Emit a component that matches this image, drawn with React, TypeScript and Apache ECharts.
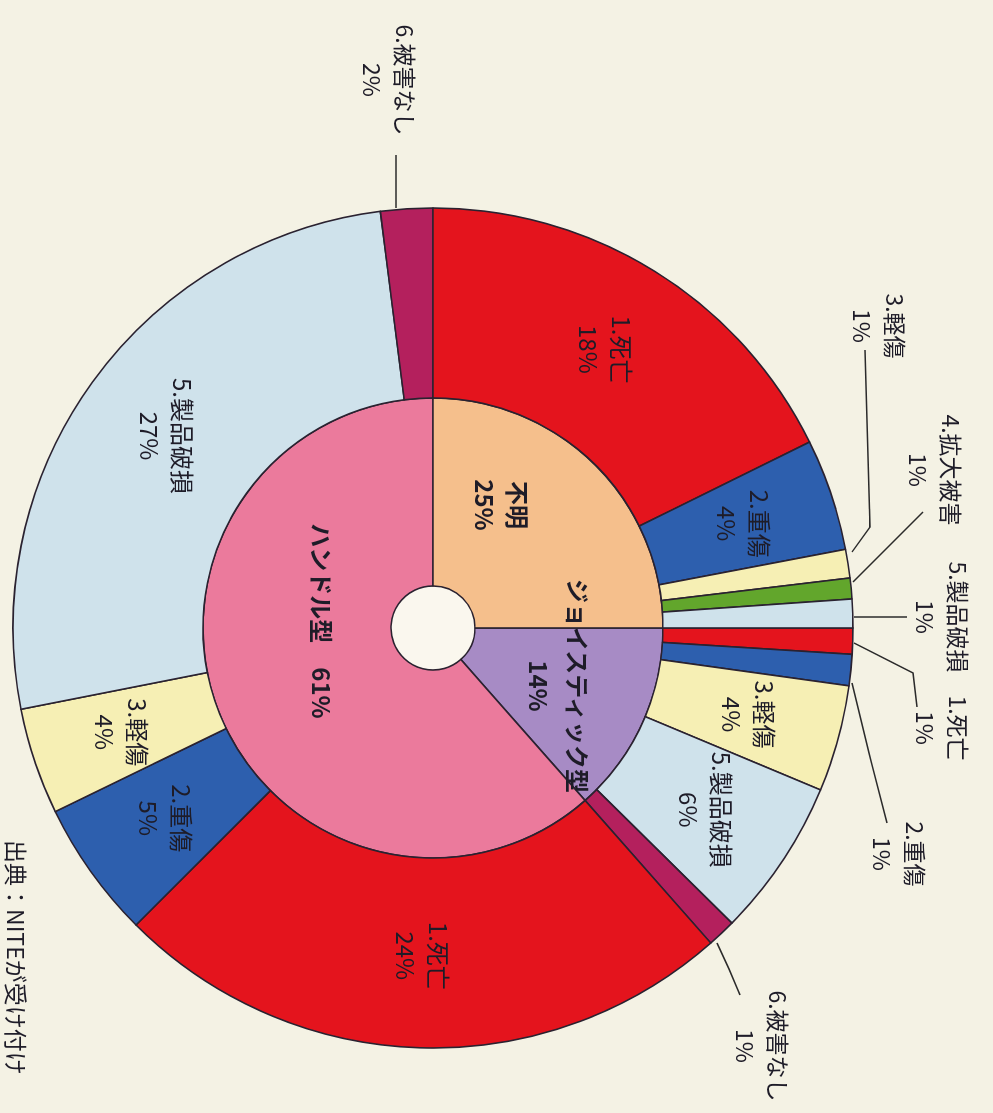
import React, { useEffect, useRef } from 'react';
import * as echarts from 'echarts';

// ---- data ----
const innerNames = ['ジョイスティック型', 'ハンドル型', '不明'];
const innerShares = [13.5, 61.5, 25.0];
const innerPercentLabels = [14, 61, 25];

const joystickNames = ['1.死亡', '2.重傷', '3.軽傷', '5.製品破損', '6.被害なし'];
const joystickShares = [1.0, 1.2, 4.1, 6.1, 1.1];
const joystickPercentLabels = [1, 1, 4, 6, 1];

const handleNames = ['1.死亡', '2.重傷', '3.軽傷', '5.製品破損', '6.被害なし'];
const handleShares = [24.0, 5.3, 4.1, 26.1, 2.0];
const handlePercentLabels = [24, 5, 4, 27, 2];

const unknownNames = ['1.死亡', '2.重傷', '3.軽傷', '4.拡大被害', '5.製品破損'];
const unknownShares = [17.7, 4.3, 1.1, 0.8, 1.1];
const unknownPercentLabels = [18, 4, 1, 1, 1];

const sourceNote = '出典：NITEが受け付け';

// ---- layout / style ----
const W = 1113;
const H = 993;
const CX = 628;
const CY = 560;
const FONT = '"Noto Sans CJK JP", "Noto Sans", sans-serif';
const TEXT = '#1e1c28';
const EDGE = '#2a2230';
const BG = '#f4f2e4';

const damageColors: Record<string, string> = {
  '1': '#e4141d',
  '2': '#2d5fae',
  '3': '#f6efb4',
  '4': '#62a62c',
  '5': '#cfe2eb',
  '6': '#b4205d',
};
const innerColors = ['#a78bc5', '#eb7a9c', '#f5bf8c'];

const innerLabelPos = [
  { x: 686, y: 434, lh: 39, sep: '\n' },
  { x: 621, y: 670, lh: 33, sep: '　' },
  { x: 505, y: 491, lh: 33, sep: '\n' },
];

// outside labels of the outer ring (index in outer data)
const outsideLabels: Record<number, { x: number; y: number; line: number[][] }> = {
  0: { x: 728, y: 50, line: [[643, 139], [673, 80], [707, 76]] },
  1: { x: 854, y: 93, line: [[683, 141], [753, 124], [823, 106]] },
  4: { x: 1046, y: 230, line: [[943, 276], [969, 264], [995, 253]] },
  9: { x: 80, y: 603, line: [[208, 597], [181, 597], [155, 597]] },
  12: { x: 326, y: 113, line: [[552, 141], [527, 123], [350, 128]] },
  13: { x: 470, y: 57, line: [[582, 140], [547, 105], [512, 70]] },
  14: { x: 617, y: 50, line: [[617, 139], [617, 112], [617, 86]] },
};

function buildOuter() {
  const groups = [
    [joystickNames, joystickShares, joystickPercentLabels],
    [handleNames, handleShares, handlePercentLabels],
    [unknownNames, unknownShares, unknownPercentLabels],
  ] as [string[], number[], number[]][];
  const out: any[] = [];
  groups.forEach(([names, shares, pcts]) => {
    names.forEach((n, i) => {
      const idx = out.length;
      const outside = !!outsideLabels[idx];
      out.push({
        name: n,
        value: shares[i],
        pct: pcts[i],
        itemStyle: { color: damageColors[n.charAt(0)] },
        label: {
          position: outside ? 'outside' : 'inside',
          fontSize: outside ? 23 : 24,
        },
        labelLine: { show: outside },
      });
    });
  });
  return out;
}

const outerData = buildOuter();
const innerData = innerNames.map((n, i) => ({
  name: n,
  value: innerShares[i],
  pct: innerPercentLabels[i],
  itemStyle: { color: innerColors[i] },
  label: { lineHeight: innerLabelPos[i].lh },
}));

const option: any = {
  animation: false,
  backgroundColor: BG,
  textStyle: { fontFamily: FONT },
  graphic: [
    {
      type: 'circle',
      z: 0,
      shape: { cx: CX, cy: CY, r: 42 },
      style: { fill: '#faf7ee' },
      silent: true,
    },
    {
      type: 'text',
      left: 840,
      top: 964,
      style: {
        text: sourceNote,
        fill: TEXT,
        font: `23px ${FONT}`,
      },
    },
  ],
  series: [
    {
      type: 'pie',
      name: 'inner',
      center: [CX, CY],
      radius: [42, 230],
      startAngle: 90,
      clockwise: true,
      avoidLabelOverlap: false,
      silent: true,
      itemStyle: { borderColor: EDGE, borderWidth: 1.6 },
      label: {
        show: true,
        position: 'inside',
        color: TEXT,
        fontFamily: FONT,
        fontSize: 24,
        fontWeight: 'bold',
        formatter: (p: any) => `${p.name}${innerLabelPos[p.dataIndex].sep}${p.data.pct}%`,
      },
      labelLine: { show: false },
      labelLayout: (p: any) => {
        const o = innerLabelPos[p.dataIndex];
        return { x: o.x, y: o.y, align: 'center', verticalAlign: 'middle' };
      },
      data: innerData,
    },
    {
      type: 'pie',
      name: 'outer',
      center: [CX, CY],
      radius: [230, 420],
      startAngle: 90,
      clockwise: true,
      avoidLabelOverlap: false,
      silent: true,
      itemStyle: { borderColor: EDGE, borderWidth: 1.6 },
      label: {
        show: true,
        color: TEXT,
        fontFamily: FONT,
        fontSize: 24,
        lineHeight: 33,
        align: 'center',
        formatter: (p: any) => `${p.name}\n${p.data.pct}%`,
      },
      labelLine: {
        show: false,
        lineStyle: { color: '#2b2b2b', width: 1.5 },
      },
      labelLayout: (p: any) => {
        const o = outsideLabels[p.dataIndex];
        if (!o) return {};
        return {
          x: o.x,
          y: o.y,
          align: 'center',
          verticalAlign: 'middle',
          labelLinePoints: o.line,
        };
      },
      data: outerData,
    },
  ],
};

export default function App() {
  const ref = useRef<HTMLDivElement>(null);
  useEffect(() => {
    document.body.style.margin = '0';
    document.body.style.overflow = 'hidden';
    document.body.style.background = BG;
    const chart = echarts.init(ref.current!, null, { renderer: 'svg' });
    chart.setOption(option);
    return () => chart.dispose();
  }, []);
  return (
    <div
      style={{
        position: 'fixed',
        left: (993 - W) / 2,
        top: (1113 - H) / 2,
        width: W,
        height: H,
        transform: 'rotate(90deg)',
        transformOrigin: '50% 50%',
      }}
    >
      <div ref={ref} style={{ width: W, height: H }} />
    </div>
  );
}
